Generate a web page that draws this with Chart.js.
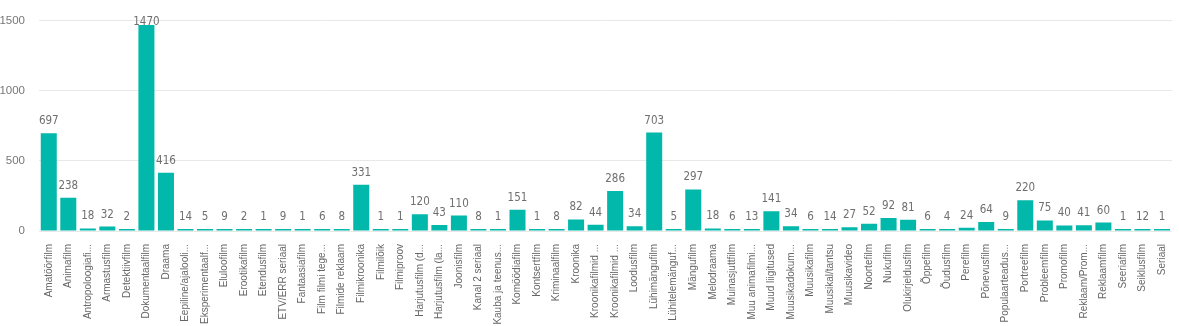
<!DOCTYPE html>
<html>
<head>
<meta charset="utf-8">
<script src="https://cdn.jsdelivr.net/npm/chart.js@4"></script>
<style>
  html, body { margin: 0; padding: 0; background: #fff; }
  #wrap { width: 1179px; height: 326px; }
</style>
</head>
<body>
<div id="wrap"><canvas id="chart" width="1179" height="326"></canvas></div>
<script>
// --- Data ---
const categories = [
    'Amatöörfilm', 'Animafilm', 'Antropoloogiafi...', 'Armastusfilm', 'Detektiivfilm',
    'Dokumentaalfilm', 'Draama', 'Eepiline/ajalooli...', 'Eksperimentaalf...', 'Eluloofilm',
    'Erootikafilm', 'Etendusfilm', 'ETV/ERR seriaal', 'Fantaasiafilm', 'Film filmi tege...',
    'Filmide reklaam', 'Filmikroonika', 'Filmilõik', 'Filmiproov', 'Harjutusfilm (d...',
    'Harjutusfilm (la...', 'Joonisfilm', 'Kanal 2 seriaal', 'Kauba ja teenus...', 'Komöödiafilm',
    'Kontsertfilm', 'Kriminaalfilm', 'Kroonika', 'Kroonikafilmid ...', 'Kroonikafilmid ...',
    'Loodusfilm', 'Lühimängufilm', 'Lühitelemänguf...', 'Mängufilm', 'Melodraama',
    'Muinasjuttfilm', 'Muu animafilmi...', 'Muud liigitused', 'Muusikadokum...', 'Muusikafilm',
    'Muusikal/tantsu', 'Muusikavideo', 'Noortefilm', 'Nukufilm', 'Olukirjeldusfilm',
    'Õppefilm', 'Õudusfilm', 'Perefilm', 'Põnevusfilm', 'Populaarteadus...',
    'Portreefilm', 'Probleemfilm', 'Promofilm', 'Reklaam/Prom...', 'Reklaamfilm',
    'Seeriafilm', 'Seiklusfilm', 'Seriaal'
];
const counts = [
    697, 238, 18, 32, 2,
    1470, 416, 14, 5, 9,
    2, 1, 9, 1, 6,
    8, 331, 1, 1, 120,
    43, 110, 8, 1, 151,
    1, 8, 82, 44, 286,
    34, 703, 5, 297, 18,
    6, 13, 141, 34, 6,
    14, 27, 52, 92, 81,
    6, 4, 24, 64, 9,
    220, 75, 40, 41, 60,
    1, 12, 1
];
const yTicks = [0, 500, 1000, 1500];

// --- Value labels above bars ---
const valueLabels = {
    id: 'valueLabels',
    afterDatasetsDraw(chart) {
        const ctx = chart.ctx;
        const meta = chart.getDatasetMeta(0);
        ctx.save();
        ctx.font = '11.5px "DejaVu Sans Condensed", "Noto Sans", sans-serif';
        ctx.fillStyle = '#6f6f6f';
        ctx.textAlign = 'center';
        ctx.textBaseline = 'middle';
        meta.data.forEach((bar, i) => {
            let y = bar.y - 12;
            if (y < 22) y = 22;
            ctx.fillText(String(counts[i]), bar.x, y);
        });
        ctx.restore();
    }
};

new Chart(document.getElementById('chart'), {
    type: 'bar',
    data: {
        labels: categories,
        datasets: [{
            data: counts,
            backgroundColor: '#01B8AA',
            categoryPercentage: 0.82,
            barPercentage: 1.0,
            minBarLength: 2
        }]
    },
    options: {
        responsive: false,
        animation: false,
        layout: { padding: { top: 17, right: 1, left: 0, bottom: 0 } },
        plugins: { legend: { display: false }, tooltip: { enabled: false } },
        scales: {
            x: {
                grid: { display: false },
                border: { display: false },
                afterFit: s => { s.height = 95; },
                ticks: {
                    autoSkip: false,
                    minRotation: 90,
                    maxRotation: 90,
                    padding: 5,
                    color: '#666',
                    font: { family: '"Liberation Sans", Arial, sans-serif', size: 10 }
                }
            },
            y: {
                min: 0,
                max: 1500,
                afterBuildTicks: s => { s.ticks = yTicks.map(v => ({ value: v })); },
                afterFit: s => { s.width = 39; },
                grid: { color: '#e8e8e8', drawTicks: false },
                border: { display: false },
                ticks: {
                    padding: 14,
                    color: '#777',
                    callback: v => String(v),
                    font: { family: '"Liberation Sans", Arial, sans-serif', size: 11.5 }
                }
            }
        }
    },
    plugins: [valueLabels]
});
</script>
</body>
</html>
